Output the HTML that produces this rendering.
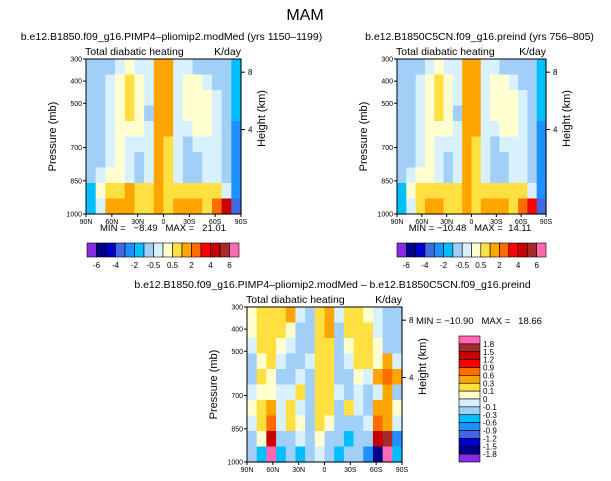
<!DOCTYPE html>
<html><head><meta charset="utf-8"><style>
body{margin:0;background:#fff}
svg{display:block;font-family:"Liberation Sans",sans-serif}
text{white-space:pre}
</style></head><body>
<svg id="c" width="611" height="481" viewBox="0 0 611 481" xmlns="http://www.w3.org/2000/svg">
<text x="305" y="20" font-size="16" text-anchor="middle">MAM</text>
</svg>
<script>
const latLabels=["90N","60N","30N","0","30S","60S","90S"];
const pLabels=[300,400,500,700,850,1000];
const levels1=[-6,-5,-4,-3,-2,-1,-0.5,0,0.5,1,2,3,4,5,6];
const cbLabels1=["-6","-4","-2","-0.5","0.5","2","4","6"];
const levels2=[-1.8,-1.5,-1.2,-0.9,-0.6,-0.3,-0.1,0,0.1,0.3,0.6,0.9,1.2,1.5,1.8];
const cbLabels2=["1.8","1.5","1.2","0.9","0.6","0.3","0.1","0","-0.1","-0.3","-0.6","-0.9","-1.2","-1.5","-1.8"];
const colors=["#8a2be2","#00008b","#0000cd","#4169e1","#1e90ff","#00bfff","#a2cff8","#d9f1ff","#ffffd0","#ffe040","#ffa500","#ff6d00","#ff0000","#c80000","#a52a2a","#ff69b4"];
const gridA=[
[-0.7,-0.7,-0.7,-0.3,0.3,-0.3,-0.3,1.5,1.5,-0.3,-0.3,-0.7,-0.7,-0.7,-0.7,-1.5],
[-0.7,-0.7,-0.3,0.3,0.7,0.3,-0.3,1.5,1.5,-0.3,0.3,0.3,-0.3,-0.7,-0.7,-1.5],
[-0.7,-0.7,-0.3,0.3,0.7,0.3,-0.3,1.5,1.5,-0.3,0.3,0.3,0.3,-0.3,-0.7,-1.5],
[-0.7,-0.7,-0.3,0.3,0.7,0.3,-0.7,1.5,1.5,-0.3,0.3,0.3,0.3,-0.3,-0.7,-1.5],
[-0.7,-0.7,-0.3,0.3,0.3,0.3,-0.3,1.5,1.5,-0.3,-0.3,0.3,0.3,-0.3,-0.7,-2.5],
[-0.7,-0.7,-0.3,0.3,-0.3,-0.3,-0.3,1.5,0.7,-0.3,-0.7,-0.3,-0.3,-0.3,-0.7,-2.5],
[-0.7,-0.7,-0.3,0.3,-0.3,-0.7,-0.3,1.5,0.7,-0.3,-0.7,-0.7,-0.3,-0.3,-0.7,-2.5],
[-0.7,-0.3,0.3,0.3,-0.3,-0.7,-0.3,1.5,0.7,-0.3,-0.7,-0.7,-0.3,-0.3,-0.7,-2.5],
[-1.5,0.3,0.7,0.7,1.5,0.7,0.7,1.5,0.7,0.7,0.7,0.7,0.7,0.7,-0.3,-2.5],
[-1.5,-0.3,1.5,1.5,1.5,0.7,0.7,1.5,0.7,1.5,1.5,1.5,0.7,2.5,4.5,-3.5]];
const gridB=[
[-0.7,-0.7,-0.7,-0.3,0.3,-0.3,-0.3,1.5,1.5,-0.3,-0.3,-0.7,-0.7,-0.7,-0.7,-1.5],
[-0.7,-0.7,-0.3,0.3,0.7,0.3,-0.3,1.5,1.5,-0.3,0.3,0.3,-0.3,-0.7,-0.7,-1.5],
[-0.7,-0.7,-0.3,0.3,0.7,0.3,-0.3,1.5,1.5,-0.3,0.3,0.3,0.3,-0.3,-0.7,-1.5],
[-0.7,-0.7,-0.3,0.3,0.7,0.3,-0.7,1.5,1.5,-0.3,0.3,0.3,0.3,-0.3,-0.7,-1.5],
[-0.7,-0.7,-0.3,0.3,0.3,0.3,-0.3,1.5,1.5,-0.3,-0.3,0.3,0.3,-0.3,-0.7,-2.5],
[-0.7,-0.7,-0.3,0.3,-0.3,-0.3,-0.3,1.5,0.7,-0.3,-0.7,-0.3,-0.3,-0.3,-0.7,-2.5],
[-0.7,-0.7,-0.3,0.3,-0.3,-0.7,-0.3,1.5,0.7,-0.3,-0.7,-0.7,-0.3,-0.3,-0.7,-2.5],
[-0.7,-0.3,0.3,0.3,-0.3,-0.7,-0.3,1.5,0.7,-0.3,-0.7,-0.7,-0.3,-0.3,-0.7,-2.5],
[-1.5,0.3,0.7,0.7,0.7,0.7,0.7,1.5,0.7,0.7,0.7,0.7,0.7,0.7,-0.3,-2.5],
[-1.5,-0.3,0.7,1.5,1.5,0.7,0.7,1.5,0.7,1.5,1.5,1.5,0.7,2.5,3.5,-3.5]];
const gridD=[
[0.05,0.2,0.2,0.2,0.4,-0.05,-0.2,0.2,0.4,-0.05,0.2,0.2,0.05,-0.05,-0.2,-0.2],
[0.05,0.2,0.2,0.2,0.05,-0.2,-0.2,0.2,0.4,-0.2,0.2,0.2,0.2,-0.05,-0.2,-0.2],
[-0.05,0.2,0.2,0.05,-0.05,-0.2,-0.2,0.2,0.2,-0.2,0.05,0.2,0.2,0.05,-0.2,-0.2],
[-0.2,0.05,0.2,-0.05,-0.2,-0.2,-0.05,0.2,0.2,-0.2,-0.05,0.2,0.2,0.05,0.4,-0.05],
[-0.2,0.2,0.05,-0.2,-0.2,-0.05,-0.2,0.2,0.2,-0.2,-0.2,0.05,-0.05,0.4,0.7,0.4],
[-0.05,0.05,0.05,-0.05,-0.05,0.2,-0.2,0.2,0.2,-0.05,-0.2,-0.05,-0.2,-0.05,0.4,-0.2],
[0.05,0.2,0.4,-0.05,0.2,-0.05,-0.2,0.2,0.2,-0.2,0.2,-0.05,-0.2,0.4,0.4,0.05],
[-0.05,0.2,0.7,-0.05,0.2,0.05,-0.2,0.2,0.05,-0.2,-0.2,-0.2,-0.05,0.7,0.4,-0.05],
[-0.2,0.05,1.3,-0.2,-0.2,-0.05,-0.2,0.05,-0.2,-0.2,-0.4,-0.2,-0.2,1.3,1.6,-0.7],
[-0.2,-0.4,1.9,-0.4,-0.2,-0.4,-0.2,-0.05,-0.2,-0.4,-0.2,-0.2,-0.7,-1.6,1.9,-0.4]];

const NS="http://www.w3.org/2000/svg";
const svg=document.getElementById('c');
function mk(tag,attrs,txt,parent){const e=document.createElementNS(NS,tag);for(const k in attrs)e.setAttribute(k,attrs[k]);if(txt!==undefined)e.textContent=txt;(parent||svg).appendChild(e);return e;}
function colorFor(v,lv){let i=0;while(i<lv.length&&v>=lv[i])i++;return colors[i];}

function panel(name,grid,lv,x0,y0,w,h,title){
  const g=mk('g',{});
  
  
  const nr=grid.length,nc=grid[0].length;
  const xs=c=>x0+c*w/nc, ys=r=>y0+r*h/nr;
  for(let r=0;r<nr;r++)for(let c=0;c<nc;c++){
    const rc=mk('rect',{x:xs(c),y:ys(r),width:w/nc+0.6,height:h/nr+0.6,fill:colorFor(grid[r][c],lv)},undefined,g);
    
    
  }
  const fr=mk('rect',{x:x0,y:y0,width:w,height:h,fill:'none',stroke:'#000','stroke-width':1},undefined,g);
  
  
  latLabels.forEach((l,i)=>{const x=x0+i*w/6;
    mk('line',{x1:x,y1:y0+h,x2:x,y2:y0+h+3,stroke:'#000'},undefined,g);
    const t=mk('text',{x:x,y:y0+h+10,'font-size':7,'text-anchor':'middle'},l,g);
    });
  pLabels.forEach(p=>{const y=y0+(p-300)/700*h;
    mk('line',{x1:x0-3,y1:y,x2:x0,y2:y,stroke:'#000'},undefined,g);
    const t=mk('text',{x:x0-4,y:y+2.5,'font-size':7,'text-anchor':'end'},String(p),g);
    });
  [[8,0.085],[4,0.455]].forEach(([k,f])=>{const y=y0+f*h;
    mk('line',{x1:x0+w,y1:y,x2:x0+w+4,y2:y,stroke:'#000'},undefined,g);
    const t=mk('text',{x:x0+w+7,y:y+3,'font-size':8},String(k),g);
    });
  const yt=mk('text',{x:0,y:0,'font-size':11,'text-anchor':'middle',transform:`translate(${x0-30},${y0+h/2}) rotate(-90)`},'Pressure (mb)',g);
  
  const ht=mk('text',{x:0,y:0,'font-size':11,'text-anchor':'middle',transform:`translate(${x0+w+24},${y0+h/2-18}) rotate(-90)`},'Height (km)',g);
  
  const st=mk('text',{x:x0-1,y:y0-4,'font-size':10.5},'Total diabatic heating',g);
  
  const ku=mk('text',{x:x0+w,y:y0-4,'font-size':10.5,'text-anchor':'end'},'K/day',g);
  
  const tt=mk('text',{x:x0+w/2+8,y:y0-19,'font-size':10.5,'text-anchor':'middle'},title,g);
  
}
function hbar(name,x0,y0,w,h){
  const g=mk('g',{});
  
  const cw=w/colors.length;
  colors.forEach((c,i)=>{const r=mk('rect',{x:x0+i*cw,y:y0,width:cw,height:h,fill:c,stroke:'#000','stroke-width':0.6},undefined,g);
    });
  cbLabels1.forEach((l,i)=>{const x=x0+(1+2*i)*cw;
    const t=mk('text',{x:x,y:y0+h+11,'font-size':8,'text-anchor':'middle'},l,g);
    });
}
function vbar(name,x0,y0,w,h){
  const g=mk('g',{});
  
  const ch=h/colors.length;
  colors.slice().reverse().forEach((c,i)=>{const r=mk('rect',{x:x0,y:y0+i*ch,width:w,height:ch,fill:c,stroke:'#000','stroke-width':0.6},undefined,g);
    });
  cbLabels2.forEach((l,i)=>{const t=mk('text',{x:x0+w+3,y:y0+(i+1)*ch+3,'font-size':8},l,g);
    });
}
function txt(name,x,y,s){const t=mk('text',{x:x,y:y,'font-size':9.5,'text-anchor':'middle'},s);
  }

panel('panel-pliomip',gridA,levels1,86,59,155,155,'b.e12.B1850.f09_g16.PIMP4\u2013pliomip2.modMed (yrs 1150\u20131199)');
panel('panel-preind',gridB,levels1,397,59,149,155,'b.e12.B1850C5CN.f09_g16.preind (yrs 756\u2013805)');
panel('panel-diff',gridD,levels2,247,307,155,155,'b.e12.B1850.f09_g16.PIMP4\u2013pliomip2.modMed \u2013 b.e12.B1850C5CN.f09_g16.preind');
txt('minmax-left',163,231,'MIN =   \u22128.49   MAX =   21.01');
txt('minmax-right',470,231,'MIN = \u221210.48   MAX =  14.11');
const mm=mk('text',{x:416,y:324,'font-size':9.5},'MIN = \u221210.90   MAX =   18.66');

hbar('colorbar-left',87,243,152,14);
hbar('colorbar-right',397,243,149,14);
vbar('colorbar-diff',459,336,21,126);
</script>
</body></html>
